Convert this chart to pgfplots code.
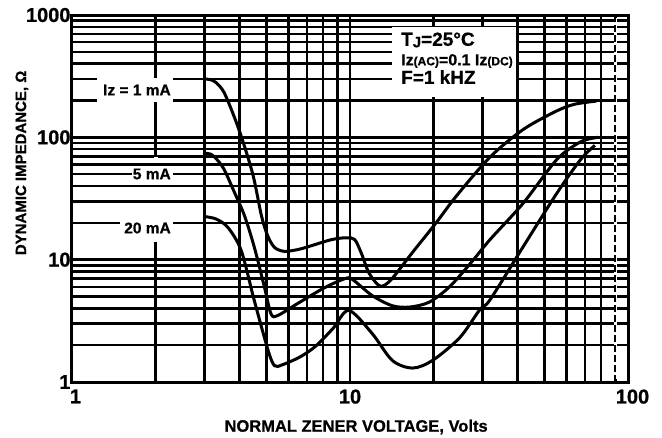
\documentclass[border=0pt]{standalone}
\usepackage{fontspec}
\setmainfont{Liberation Sans}[BoldFeatures={FakeBold=0.8}]
\usepackage{pgfplots}
\pgfplotsset{compat=1.18}

\begin{document}
\begin{tikzpicture}
\begin{axis}[
  at={(0pt,0pt)}, anchor=south west,
  xmode=log, ymode=log,
  scale only axis, width=556pt, height=367pt,
  xmin=1, xmax=100, ymin=1, ymax=1000,
  xtick={1,10,100}, xticklabels={\hspace{7pt}1,10,\hspace{9pt}100},
  ytick={1,10,100,1000}, yticklabels={1,10,100,1000},
  major tick length=0pt, minor tick length=0pt,
  grid=both,
  major grid style={black, line width=2.5pt},
  minor grid style={black, line width=2.5pt},
  axis line style={black, line width=3pt},
  tick label style={font=\fontsize{20}{20}\selectfont\bfseries},
  xticklabel style={yshift=-4pt},
  yticklabel style={xshift=2pt},
  clip=false,
]
% Iz = 1 mA
\addplot[black, line width=3pt, smooth, tension=0.5] coordinates {
  (3.0,300) (3.15,296) (3.3,280) (3.52,234) (3.83,148) (4.13,91) (4.49,48)
  (4.8,23) (5.05,15.8) (5.35,12.6) (5.8,11.7) (6.5,12.1) (7.1,12.8)
  (8.6,14.6) (9.7,15.1) (10.4,14.6) (11,11.2) (11.7,7.8) (12.8,6.1)
  (14,6.8) (16.8,11.5) (20.4,20) (24.1,33) (31.9,69) (42,116) (55,163)
  (64,186) (77,198)};
% 5 mA
\addplot[black, line width=3pt, smooth, tension=0.5] coordinates {
  (3.0,74) (3.15,73) (3.3,67) (3.52,55) (3.83,36) (4.17,23) (4.52,12.8)
  (4.92,6.0) (5.2,3.6) (5.5,3.5) (6.5,4.4) (8.1,5.9) (9.6,7.0) (10.2,6.9)
  (12,5.1) (14.2,4.2) (16.4,4.1) (19.3,4.5) (22.8,6.0) (27.3,9.5)
  (31.9,14.6) (42,29) (55.5,66) (67.6,92) (78,100)};
% 20 mA
\addplot[black, line width=3pt, smooth, tension=0.5] coordinates {
  (3.0,22.5) (3.3,21.5) (3.64,18.3) (4.06,11.9) (4.53,4.6) (5.08,1.8)
  (5.35,1.36) (5.7,1.38) (6.6,1.6) (7.5,1.95) (8.7,2.75) (9.9,3.85) (12,2.5) (14.2,1.5)
  (16.8,1.3) (19.8,1.5) (24.8,2.3) (29.3,3.9) (31.9,4.7) (42,12.8)
  (55.5,35) (67.6,66) (76,86)};

% gap in the 2 V grid line beside the labels
\draw[white, line width=4pt] (axis cs:2,14) -- (axis cs:2,69);
\draw[black, line width=2.5pt] (axis cs:1.8,30) -- (axis cs:2.2,30);
\draw[black, line width=2.5pt] (axis cs:1.8,40) -- (axis cs:2.2,40);
\draw[black, line width=2.5pt] (axis cs:1.8,60) -- (axis cs:2.2,60);
% dashed 90 V line
\draw[white, line width=2.6pt] (axis cs:90,1.05) -- (axis cs:90,950);
\draw[black, line width=1.6pt, dash pattern=on 7pt off 3pt] (axis cs:90,1) -- (axis cs:90,1000);

% label boxes
\fill[white] (rel axis cs:0.045,0.763) rectangle (rel axis cs:0.1817,0.828);
\fill[white] (rel axis cs:0.108,0.545) rectangle (rel axis cs:0.1817,0.586);
\fill[white] (rel axis cs:0.0863,0.398) rectangle (rel axis cs:0.1817,0.45);
\fill[white] (rel axis cs:0.5755,0.7766) rectangle (rel axis cs:0.7986,0.9673);

\node[anchor=east, inner sep=0pt, font=\fontsize{15.5}{15.5}\selectfont\bfseries]
  at (rel axis cs:0.178,0.7956) {Iz = 1 mA};
\node[anchor=east, inner sep=0pt, font=\fontsize{15.5}{15.5}\selectfont\bfseries]
  at (rel axis cs:0.178,0.5668) {5 mA};
\node[anchor=east, inner sep=0pt, font=\fontsize{15.5}{15.5}\selectfont\bfseries]
  at (rel axis cs:0.178,0.4196) {20 mA};

\node[anchor=west, inner sep=0pt, font=\fontsize{19}{19}\selectfont\bfseries]
  at (rel axis cs:0.5917,0.9319) {T\raisebox{-0.15ex}{\fontsize{15}{15}\selectfont J}=25°C};
\node[anchor=west, inner sep=0pt, font=\fontsize{16}{16}\selectfont\bfseries]
  at (rel axis cs:0.5917,0.8747)
  {Iz{\fontsize{12}{12}\selectfont(AC)}=0.1 Iz{\fontsize{12}{12}\selectfont(DC)}};
\node[anchor=west, inner sep=0pt, font=\fontsize{19}{19}\selectfont\bfseries]
  at (rel axis cs:0.5917,0.831) {F=1 kHZ};

% axis titles
\node[font=\fontsize{16.5}{16.5}\selectfont\bfseries]
  at (rel axis cs:0.511,-0.1226) {NORMAL ZENER VOLTAGE, Volts};
\node[rotate=90, font=\fontsize{15}{15}\selectfont\bfseries]
  at (rel axis cs:-0.0899,0.597) {DYNAMIC IMPEDANCE, Ω};
\end{axis}
\pgfresetboundingbox
\useasboundingbox (-72pt,-55pt) rectangle (590pt,382pt);
\end{tikzpicture}
\end{document}
